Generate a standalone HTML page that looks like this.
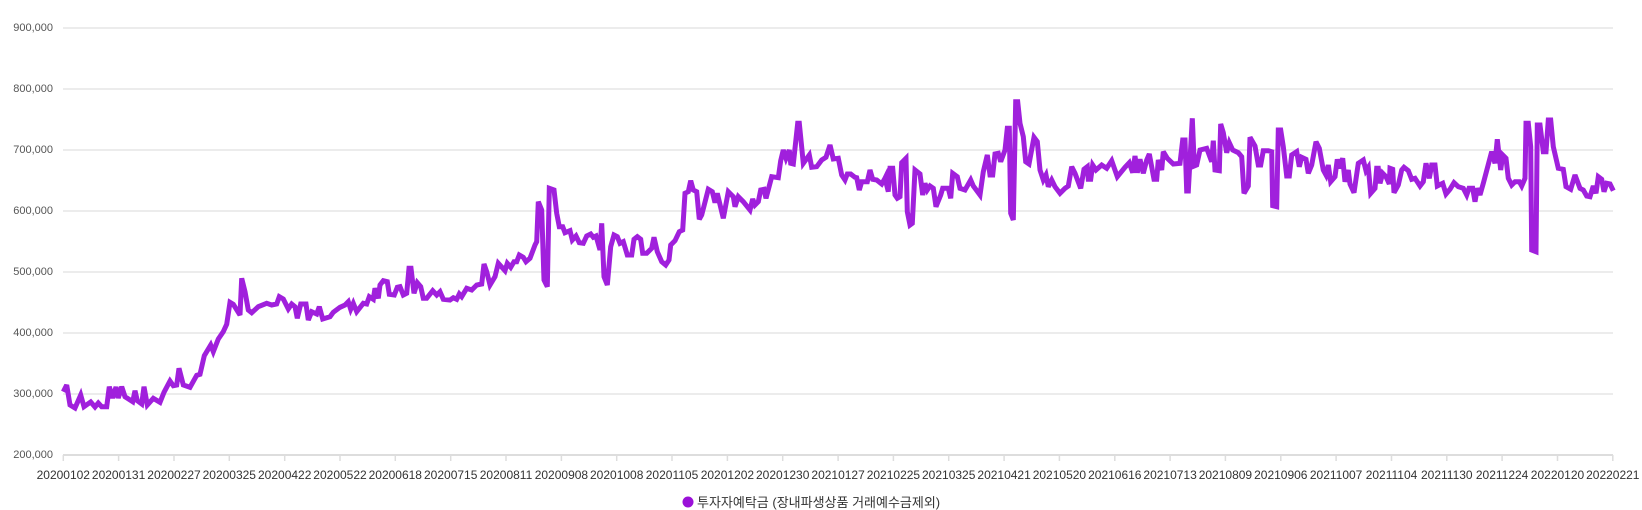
<!DOCTYPE html>
<html><head><meta charset="utf-8"><style>
html,body{margin:0;padding:0;background:#fff;}
svg{display:block;}
text{font-family:"Liberation Sans","Noto Sans CJK KR",sans-serif;}
</style></head><body>
<svg width="1642" height="510" xmlns="http://www.w3.org/2000/svg">
<g stroke="#e6e6e6" stroke-width="1.5">
<line x1="63" y1="28" x2="1613" y2="28"/>
<line x1="63" y1="89" x2="1613" y2="89"/>
<line x1="63" y1="150" x2="1613" y2="150"/>
<line x1="63" y1="211" x2="1613" y2="211"/>
<line x1="63" y1="272" x2="1613" y2="272"/>
<line x1="63" y1="333" x2="1613" y2="333"/>
<line x1="63" y1="394" x2="1613" y2="394"/>
</g>
<line x1="63" y1="455" x2="1613" y2="455" stroke="#dddddd" stroke-width="2"/>
<g font-size="11" fill="#555" text-anchor="end">
<text x="53" y="31">900,000</text>
<text x="53" y="92">800,000</text>
<text x="53" y="153">700,000</text>
<text x="53" y="214">600,000</text>
<text x="53" y="275">500,000</text>
<text x="53" y="336">400,000</text>
<text x="53" y="397">300,000</text>
<text x="53" y="458">200,000</text>
</g>
<g stroke="#dddddd" stroke-width="1.5">
<line x1="63.3" y1="455" x2="63.3" y2="461"/><line x1="118.6" y1="455" x2="118.6" y2="461"/><line x1="174" y1="455" x2="174" y2="461"/><line x1="229.3" y1="455" x2="229.3" y2="461"/><line x1="284.7" y1="455" x2="284.7" y2="461"/><line x1="340" y1="455" x2="340" y2="461"/><line x1="395.3" y1="455" x2="395.3" y2="461"/><line x1="450.7" y1="455" x2="450.7" y2="461"/><line x1="506" y1="455" x2="506" y2="461"/><line x1="561.4" y1="455" x2="561.4" y2="461"/><line x1="616.7" y1="455" x2="616.7" y2="461"/><line x1="672" y1="455" x2="672" y2="461"/><line x1="727.4" y1="455" x2="727.4" y2="461"/><line x1="782.7" y1="455" x2="782.7" y2="461"/><line x1="838.1" y1="455" x2="838.1" y2="461"/><line x1="893.4" y1="455" x2="893.4" y2="461"/><line x1="948.7" y1="455" x2="948.7" y2="461"/><line x1="1004.1" y1="455" x2="1004.1" y2="461"/><line x1="1059.4" y1="455" x2="1059.4" y2="461"/><line x1="1114.8" y1="455" x2="1114.8" y2="461"/><line x1="1170.1" y1="455" x2="1170.1" y2="461"/><line x1="1225.4" y1="455" x2="1225.4" y2="461"/><line x1="1280.8" y1="455" x2="1280.8" y2="461"/><line x1="1336.1" y1="455" x2="1336.1" y2="461"/><line x1="1391.5" y1="455" x2="1391.5" y2="461"/><line x1="1446.8" y1="455" x2="1446.8" y2="461"/><line x1="1502.1" y1="455" x2="1502.1" y2="461"/><line x1="1557.5" y1="455" x2="1557.5" y2="461"/><line x1="1612.8" y1="455" x2="1612.8" y2="461"/>
</g>
<g font-size="12" fill="#333" text-anchor="middle">
<text x="63.3" y="479">20200102</text><text x="118.6" y="479">20200131</text><text x="174" y="479">20200227</text><text x="229.3" y="479">20200325</text><text x="284.7" y="479">20200422</text><text x="340" y="479">20200522</text><text x="395.3" y="479">20200618</text><text x="450.7" y="479">20200715</text><text x="506" y="479">20200811</text><text x="561.4" y="479">20200908</text><text x="616.7" y="479">20201008</text><text x="672" y="479">20201105</text><text x="727.4" y="479">20201202</text><text x="782.7" y="479">20201230</text><text x="838.1" y="479">20210127</text><text x="893.4" y="479">20210225</text><text x="948.7" y="479">20210325</text><text x="1004.1" y="479">20210421</text><text x="1059.4" y="479">20210520</text><text x="1114.8" y="479">20210616</text><text x="1170.1" y="479">20210713</text><text x="1225.4" y="479">20210809</text><text x="1280.8" y="479">20210906</text><text x="1336.1" y="479">20211007</text><text x="1391.5" y="479">20211104</text><text x="1446.8" y="479">20211130</text><text x="1502.1" y="479">20211224</text><text x="1557.5" y="479">20220120</text><text x="1612.8" y="479">20220221</text>
</g>
<polyline fill="none" stroke="#a020dc" stroke-width="5" stroke-linejoin="miter" stroke-miterlimit="3" points="
63.3,391.7 66.7,385 70,405 75,408 80.7,395 84,406.7 90.7,402 95,407 98.3,403 101.7,406.7 106.7,406.7 109.3,386.7 112.7,398 116,387 118.3,398 121.7,386.7 125,396.7 132.7,401.7 135,390.7 137.3,400.7 141.7,404 144,386.7 147.3,405 153.3,398.3 160,402.3 164,392.3 170,381 173.3,385.7 176.7,385 179,368.3 183.3,385 190,387.3 196.7,375.3 200,374.3 204.3,355.7 210.7,345 213.3,351.7 218.3,339 223.3,331.7 226.7,324.3 230,302.3 233.3,304.3 240,315 241.7,278.3 245,291.7 248.3,310 251.7,312.7 258.3,306.7 266.7,303.3 271.7,305 276.7,304 279.3,296.7 283.3,299 288.3,309 291.7,304 295,306.7 297.3,318.3 300.7,304 306,304 308.3,320 311.7,311.7 316.7,314 319.3,306.7 322.7,319 330,316.7 333.3,312.3 340,307.3 345,305 348.3,301.7 350.7,309.3 353.3,303.3 356.7,311.7 363.3,303.3 366.7,304 369.3,296.7 373.3,299.3 375,288.3 378.3,298.3 380,285 383.3,280.7 387.3,281.7 389.3,294.3 394.3,295 397.3,287.3 400,286.7 403.3,295 406.7,293.3 409,268.3 411,268.3 414,293.3 417.3,282.7 420.7,286.7 423.3,298.3 426.7,298.3 432.7,290.7 436.7,295 440,291.7 443.3,299.3 450,300 453.3,297.7 456.7,299.3 459.3,294 461.7,296.7 466.7,288.3 471.7,290 476.7,285 481.7,284 484,264 486.7,271.7 490,285 495,276.7 498.3,263.3 505,270.7 507.3,263.3 510.7,267.3 514,261.7 516.7,261.7 519.3,255 523.3,257.3 526,261.7 530,258.3 535,245 536.7,241.7 538.3,201.7 541.7,210 544,280 547.3,286.7 549.3,188.3 554,190 556.7,213.3 559.3,226.7 562.7,226.7 565,232.7 570,230.7 572.3,240 576,236 579.3,242.7 583.3,243.3 586.7,236 590.7,234 593.3,237.3 596,236 600,250 601.7,223.3 604,276.7 607.3,285 610.7,246.7 614,235 617.3,236.7 620,243.3 623.3,241.7 627.3,255 631.7,255 634,239.3 637.3,236.7 640.7,239.3 642.7,253.3 646.7,253.3 651.7,248.3 654,237.3 657.3,251.7 661.7,261.7 665.7,265 669,260 670.7,245 675,240.7 679.3,231.7 682.7,230 685,193.3 688.3,191.7 690.7,180.7 693.3,190 696.7,191.7 699.3,219.3 701.7,215 708.3,189.3 712.3,191.7 715,202.7 717.3,193.3 723.3,218.3 728.3,191.7 733.3,196.7 735,206.7 738.3,196.7 743.3,201.7 750,210 752.7,199 755,205 758.3,201.7 760.7,190 764,189.3 766,198.3 771.7,176.7 778.3,177.7 780.7,160.7 783.3,150 786,158.3 789.3,150 790.7,163.3 793.3,164 797.7,123.3 799.3,123.3 803.3,163.3 809.3,155 811.7,167.3 816.7,166.7 821.7,160 826,157.3 830,145 833.3,159 838.3,158.3 841.7,175 845,180 847.3,174 850.7,174 855,177.3 856.7,177.7 859.3,190 861.7,181.7 867.3,181.7 870,170 872.7,179.3 876.7,180 881.7,184 885,178.3 888.3,191.7 889.3,169.3
883.3,181.7 886,176.7 888.3,190 890,168.3 892.7,168.3 895,195 897.3,198.3 900,196.7 901.7,162.7 906,158.3 907.3,211.7 910,225 912.3,223.3 915,170 920,174 922.7,195 925,183.3 927.3,190 930,186 933.3,188.3 936,206.7 940.7,195 942.7,188.3 948.3,188.3 950.7,198.3 952.7,173.3 957.3,176.7 960,188.3 965,190 970.7,180 973.3,186 980,195 983.3,171.7 987.3,155 990,175 992.7,175 995,154 998.3,153.3 1000.7,161.7 1005,150 1007.3,128.3 1009.3,128.3 1010.7,213.3 1013.3,220 1015.7,101.7 1017.7,101.7 1020,123.3 1023.3,136.7 1025.7,161.7 1029,164 1034,137.3 1037.3,141.7 1040,170 1043.3,180 1046,175 1048.3,186.7 1051.7,180 1055,186.7 1060,193.3 1065,188.3 1068.3,186 1071.7,166.7 1075,173.3 1080.7,188.3 1084,169.3 1087.3,166.7 1088.3,179.3 1090.7,179.3 1092.7,165 1096,170 1101.7,165 1106.7,168.3 1111.7,160.7 1117.3,176.7 1125,167.3 1129.3,162.7 1132.7,172.7 1135,156 1137.3,172.7 1140,159.3 1143.3,173.3 1146.7,160 1149.3,154 1154,179.3 1156.7,179.3 1158.3,160 1161.7,170 1163.3,151.7 1167.3,158.3 1173.3,164 1180,163.3 1182.7,140 1185,140 1186.7,191 1188.3,191 1192.3,118.3 1194.3,166 1196.7,165 1200,150 1206.7,148.3 1211.7,161.7 1213.3,140.7 1215,170 1219.3,170.7 1220.7,124 1223.3,132.7 1226.7,152.7 1229.3,142.7 1232.7,150 1238.3,152.7 1241.7,156.7 1244,193.3 1248.3,186 1250,137.3 1255,146 1258.3,165 1260.7,165 1263.3,150.7 1268.3,150.7 1271.7,151.7 1272.7,205.7 1276.7,206.7 1278.3,130 1280.7,130 1283.3,146.7 1286.7,176 1289.3,176 1291.7,155 1296.7,151.7 1299.3,166.7 1301.7,157.3 1306,159.3 1308.3,173.3 1311.7,165 1316,141.7 1319.3,148.3 1323.3,170 1326,175 1328.3,165 1330.7,181.7 1335,176.7 1337.3,159.3 1339.3,168.3 1342.7,158.3 1345,181.7 1348.3,170 1350,184 1354,192.7 1358.3,163.3 1363.3,160 1366,170.7 1368.3,167.3 1370.7,193.3 1375,188.3 1376.7,168.3 1378.3,168.3 1380,183.3 1382.7,173.3 1386,176.7 1389.3,184 1390,168.3 1392.7,169.3 1394,192.7 1398.3,185 1401.7,170 1404,167.3 1408.3,170.7 1411.7,179.3 1415,178.3 1420,186 1423.3,181.7 1426,163.3 1429.3,178.3 1431.7,165 1435,165 1437.3,186 1442.7,183.3 1446,194 1450,189.3 1454,182.7 1458.3,186.7 1463.3,188.3 1466.7,195 1469,188.3 1472.7,188.3 1475,201.7 1477.3,188.3 1480,195 1483.3,183.3 1491.7,151.7 1495,163.3 1497.3,139.3 1500.7,170 1502.7,155 1506,158.3 1508.3,178.3 1511.7,185 1515,181.7 1519.3,181.7 1521.7,186 1525,178.3 1526,123.3 1528.3,123.3 1530.7,146.7 1531.7,250 1536,251.7 1537.3,125 1540,125 1543.3,151.7 1546,151.7 1548.3,120 1550.7,120 1553.3,146.7 1558.3,168.3 1563.3,169.3 1566,186.7 1570.7,189.3 1575,175 1580,188.3 1583.3,190 1586.7,196 1590,196.7 1593.3,186 1596,193.3 1598.3,176.7 1601.7,179.3 1604,191.7 1606.7,183.3 1610,184 1613.3,190.7"/>
<circle cx="688" cy="502" r="5.5" fill="#9a10d8"/>
<text x="697" y="507" font-size="13" fill="#333">투자자예탁금 (장내파생상품 거래예수금제외)</text>
</svg>
</body></html>
